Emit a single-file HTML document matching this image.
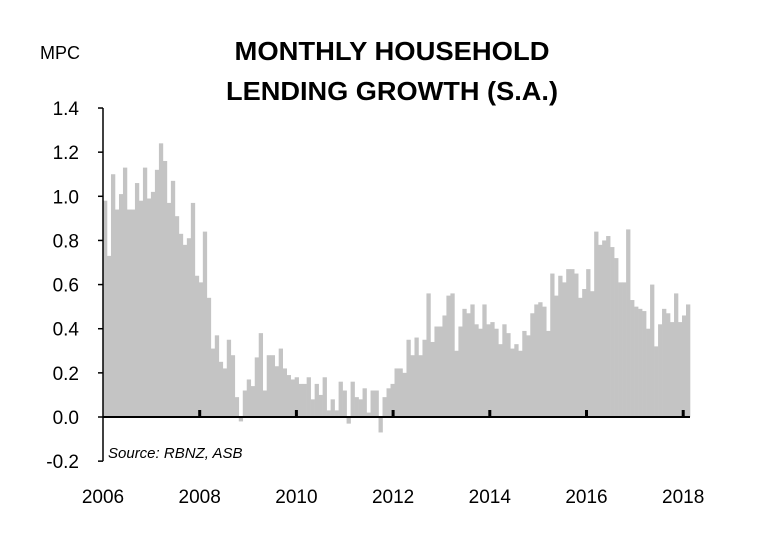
<!DOCTYPE html>
<html><head><meta charset="utf-8"><style>
body{margin:0;background:#fff;}
svg text{font-family:"Liberation Sans",sans-serif;fill:#000;}
</style></head><body>
<svg width="759" height="552" viewBox="0 0 759 552">
<text x="40" y="59" font-size="18">MPC</text>
<text x="392" y="60" font-size="26" font-weight="bold" text-anchor="middle" textLength="315" lengthAdjust="spacingAndGlyphs">MONTHLY HOUSEHOLD</text>
<text x="392" y="100" font-size="26" font-weight="bold" text-anchor="middle" textLength="332" lengthAdjust="spacingAndGlyphs">LENDING GROWTH (S.A.)</text>
<g id="bars"></g>
<g id="axes"></g>
<text x="108" y="458" font-size="15" font-style="italic">Source:  RBNZ, ASB</text>
</svg>
<script>
const values = [0.98,0.73,1.10,0.94,1.01,1.13,0.94,0.94,1.06,0.98,1.13,0.99,1.02,1.12,1.24,1.16,0.97,1.07,0.91,0.83,0.78,0.81,0.97,0.64,0.61,0.84,0.54,0.31,0.37,0.25,0.22,0.35,0.28,0.09,-0.02,0.12,0.17,0.14,0.27,0.38,0.12,0.28,0.28,0.23,0.31,0.22,0.19,0.17,0.18,
0.15,0.15,0.18,0.08,0.15,0.10,0.18,0.03,0.08,0.03,0.16,0.12,-0.03,0.16,0.09,0.08,0.13,0.02,0.12,0.12,-0.07,0.09,0.13,0.15,0.22,0.22,0.20,0.35,0.28,0.36,0.28,0.35,0.56,0.34,0.41,0.41,0.46,0.55,0.56,0.30,0.41,0.49,0.47,0.51,0.42,0.40,
0.51,0.42,0.43,0.40,0.33,0.42,0.38,0.31,0.33,0.30,0.39,0.37,0.47,0.51,0.52,0.50,0.39,0.65,0.55,0.64,0.61,0.67,0.67,0.65,0.54,0.58,0.67,0.57,0.84,0.78,0.80,0.82,0.77,0.72,0.61,0.61,0.85,0.53,0.50,0.49,0.48,0.40,0.60,0.32,0.42,0.49,0.47,0.43,0.56,0.43,0.46,0.51];
const yTicks = [-0.2,0,0.2,0.4,0.6,0.8,1.0,1.2,1.4];
const yLabels = ["-0.2","0.0","0.2","0.4","0.6","0.8","1.0","1.2","1.4"];
const xTickYears = [2006,2008,2010,2012,2014,2016,2018];
const startYear = 2006;
const NS="http://www.w3.org/2000/svg";
const x0=103,x1=690,y0=417,pxPerUnit=220.7,pxPerYear=48.35;
const yScale=v=>y0-v*pxPerUnit;
const xYear=yr=>x0+(yr-startYear)*pxPerYear;
const bw=(x1-x0)/values.length;
const bars=document.getElementById('bars');
values.forEach((v,i)=>{
  const r=document.createElementNS(NS,'rect');
  const yt=Math.min(yScale(v),y0), yb=Math.max(yScale(v),y0);
  r.setAttribute('x',x0+i*bw);r.setAttribute('y',yt);
  r.setAttribute('width',bw+0.3);r.setAttribute('height',yb-yt);
  r.setAttribute('fill','#c4c4c4');
  
  
  bars.appendChild(r);
});
const ax=document.getElementById('axes');
function line(a,b,c,d,w){const l=document.createElementNS(NS,'line');l.setAttribute('x1',a);l.setAttribute('y1',b);l.setAttribute('x2',c);l.setAttribute('y2',d);l.setAttribute('stroke','#000');l.setAttribute('stroke-width',w);ax.appendChild(l);return l;}
const ya=line(x0,yScale(1.4),x0,yScale(-0.2),1.5);


const xa=line(x0,y0,x1,y0,2);


yTicks.forEach((t,i)=>{
  line(x0-5,yScale(t),x0,yScale(t),1.5);
  const tx=document.createElementNS(NS,'text');
  tx.setAttribute('x',79);tx.setAttribute('y',yScale(t)+7);
  tx.setAttribute('font-size','19');tx.setAttribute('text-anchor','end');
  tx.textContent=yLabels[i];
  
  
  ax.appendChild(tx);
});
xTickYears.forEach(yr=>{
  const x=xYear(yr);
  if(yr>startYear) line(x,y0-7,x,y0,3);
  const tx=document.createElementNS(NS,'text');
  tx.setAttribute('x',x);tx.setAttribute('y',503);
  tx.setAttribute('font-size','19');tx.setAttribute('text-anchor','middle');
  tx.textContent=yr;
  
  
  ax.appendChild(tx);
});
</script>
</body></html>
